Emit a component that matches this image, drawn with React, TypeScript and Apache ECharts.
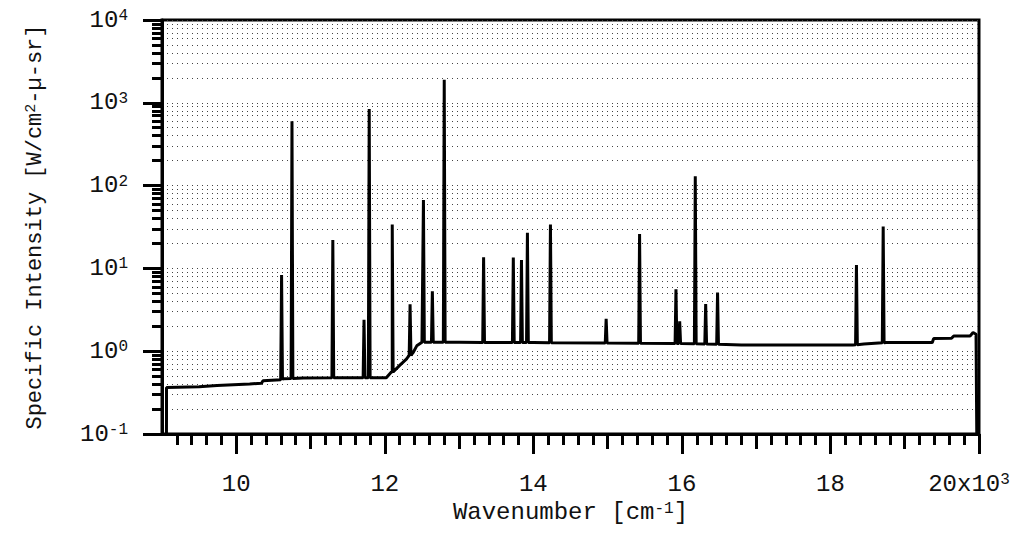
import React, { useEffect, useRef } from "react";
import * as echarts from "echarts";

// ---- axis labels / ticks ----
const xLabelValues = [10, 12, 14, 16, 18, 20];
const xMidTickValues = [11, 13, 15, 17, 19];
const yDecadeValues = [0.1, 1, 10, 100, 1000, 10000];
const yMinorMultipliers = [2, 3, 4, 5, 6, 7, 8, 9];

// ---- continuum (wavenumber in 10^3 cm^-1, intensity) ----
const baselineX = [
  9.06, 9.061, 9.5, 9.74, 10.18, 10.34, 10.36, 10.6, 10.63, 10.9, 11.5, 12.02,
  12.1, 12.2, 12.29, 12.38, 12.43, 12.5, 13.0, 14.0, 15.0, 16.0, 16.8, 17.5,
  18.3, 18.45, 18.75, 19.37, 19.39, 19.63, 19.66, 19.88, 19.92, 19.96, 19.97,
];
const baselineY = [
  0.1, 0.365, 0.372, 0.385, 0.403, 0.41, 0.44, 0.445, 0.465, 0.475, 0.478, 0.478,
  0.56, 0.675, 0.8, 0.96, 1.16, 1.28, 1.28, 1.27, 1.26, 1.24, 1.19, 1.19,
  1.19, 1.22, 1.27, 1.27, 1.42, 1.43, 1.53, 1.53, 1.68, 1.6, 0.1,
];

// ---- emission lines ----
const lineX = [
  10.61, 10.75, 11.3, 11.72, 11.79, 12.1, 12.34, 12.52, 12.64, 12.8, 13.33,
  13.73, 13.84, 13.92, 14.23, 14.98, 15.43, 15.92, 15.97, 16.18, 16.32, 16.48,
  18.35, 18.71,
];
const lineY = [
  8.3, 600, 22, 2.4, 840, 34, 3.7, 67, 5.3, 1900, 13.6, 13.5, 12.6, 27, 34,
  2.46, 26, 5.6, 2.3, 130, 3.7, 5.1, 11, 32,
];

const FONT = "'Liberation Mono', 'Courier New', monospace";

function baseAt(x: number): number {
  for (let i = 0; i < baselineX.length - 1; i++) {
    if (x >= baselineX[i] && x <= baselineX[i + 1]) {
      const t = (x - baselineX[i]) / (baselineX[i + 1] - baselineX[i]);
      return baselineY[i] + t * (baselineY[i + 1] - baselineY[i]);
    }
  }
  return baselineY[baselineY.length - 1];
}

function buildData(): [number, number][] {
  const pts: [number, number][] = baselineX.map((x, i) => [x, baselineY[i]]);
  const hw = 0.012;
  lineX.forEach((x, i) => {
    const b = baseAt(x);
    pts.push([x - hw, b], [x, lineY[i]], [x + hw, b]);
  });
  pts.sort((a, b) => a[0] - b[0]);
  return pts;
}

export default function App() {
  const ref = useRef<HTMLDivElement>(null);
  useEffect(() => {
    document.body.style.margin = "0";
    const chart = echarts.init(ref.current!, null, { renderer: "svg" });

    const minorX: number[] = [];
    for (let i = 46; i <= 100; i++) minorX.push(i / 5);
    const minorY: number[] = [];
    yDecadeValues.slice(0, -1).forEach((d) =>
      yMinorMultipliers.forEach((m) => minorY.push(+(d * m).toPrecision(3)))
    );

    const gridLine = {
      show: true,
      lineStyle: { color: "#444", width: 1, type: [1, 4] as any },
    };
    const baseX = {
      type: "value" as const,
      min: 9,
      max: 20,
      position: "bottom" as const,
      splitLine: { show: false },
    };
    const baseY = {
      type: "log" as const,
      logBase: 10,
      min: 0.1,
      max: 10000,
      position: "left" as const,
    };

    chart.setOption({
      animation: false,
      backgroundColor: "#fff",
      textStyle: { fontFamily: FONT, color: "#111" },
      grid: {
        left: 162,
        right: 44,
        top: 20,
        bottom: 104,
        show: true,
        borderColor: "#000",
        borderWidth: 3,
      },
      xAxis: [
        {
          ...baseX,
          axisLine: { show: true, lineStyle: { color: "#000", width: 3 } },
          axisTick: {
            show: true,
            customValues: xLabelValues,
            length: 20,
            lineStyle: { color: "#000", width: 3 },
          },
          axisLabel: {
            show: true,
            customValues: xLabelValues,
            margin: 38,
            fontFamily: FONT,
            fontSize: 24,
            color: "#111",
            formatter: (v: number) =>
              v === 20 ? "20x10{sup|3}" : String(v),
            rich: {
              sup: {
                fontFamily: FONT,
                fontSize: 16,
                color: "#111",
                verticalAlign: "top",
                padding: [0, 20, 0, 0],
              },
            },
          },
          name: "Wavenumber [cm{sup|-1}]",
          nameLocation: "middle",
          nameGap: 59,
          nameTextStyle: {
            fontFamily: FONT,
            fontSize: 24,
            color: "#111",
            rich: {
              sup: {
                fontFamily: FONT,
                fontSize: 16,
                color: "#111",
                verticalAlign: "top",
              },
            },
          },
        },
        {
          ...baseX,
          axisLine: { show: false },
          axisTick: {
            show: true,
            customValues: xMidTickValues,
            length: 15,
            lineStyle: { color: "#000", width: 3 },
          },
          axisLabel: { show: false },
        },
        {
          ...baseX,
          axisLine: { show: false },
          axisTick: {
            show: true,
            customValues: minorX,
            length: 11,
            lineStyle: { color: "#000", width: 3 },
          },
          axisLabel: { show: false },
        },
      ],
      yAxis: [
        {
          ...baseY,
          axisLine: { show: true, lineStyle: { color: "#000", width: 3 } },
          axisTick: {
            show: true,
            customValues: yDecadeValues,
            length: 19,
            lineStyle: { color: "#000", width: 3 },
          },
          splitLine: gridLine,
          axisLabel: {
            show: true,
            customValues: yDecadeValues,
            margin: 34,
            fontFamily: FONT,
            fontSize: 24,
            color: "#111",
            formatter: (v: number) =>
              "10{sup|" + Math.round(Math.log10(v)) + "}",
            rich: {
              sup: {
                fontFamily: FONT,
                fontSize: 16,
                color: "#111",
                verticalAlign: "top",
              },
            },
          },
          name: "Specific Intensity [W/cm{sup|2}-µ-sr]",
          nameLocation: "middle",
          nameRotate: 90,
          nameGap: 116,
          nameTextStyle: {
            fontFamily: FONT,
            fontSize: 22,
            color: "#111",
            rich: {
              sup: {
                fontFamily: FONT,
                fontSize: 15,
                color: "#111",
                verticalAlign: "top",
              },
            },
          },
        },
        {
          ...baseY,
          axisLine: { show: false },
          axisTick: {
            show: true,
            customValues: minorY,
            length: 10,
            lineStyle: { color: "#000", width: 3 },
          },
          splitLine: gridLine,
          axisLabel: { show: false },
        },
      ],
      series: [
        {
          type: "line",
          xAxisIndex: 0,
          yAxisIndex: 0,
          data: buildData(),
          showSymbol: false,
          symbol: "none",
          lineStyle: { color: "#000", width: 3 },
          z: 5,
        },
      ],
    });
    return () => chart.dispose();
  }, []);
  return <div ref={ref} style={{ width: 1023, height: 538 }} />;
}
